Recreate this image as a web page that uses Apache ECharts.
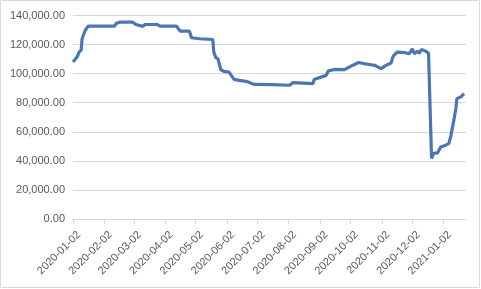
<!DOCTYPE html>
<html>
<head>
<meta charset="utf-8">
<script src="https://cdn.jsdelivr.net/npm/echarts@6/dist/echarts.min.js"></script>
<style>
html,body{margin:0;padding:0;background:#fff;}
#c{width:481px;height:289px;}
</style>
</head>
<body>
<div id="c"></div>
<script>
// Axis range (dates)
const startDate = '2020-01-02';
const endDate = '2021-01-24';

// Observed points (date, value)
const pointDates = [
  '2020-01-02','2020-01-06','2020-01-08','2020-01-10','2020-01-11','2020-01-14','2020-01-17',
  '2020-02-12','2020-02-14','2020-02-17','2020-03-01','2020-03-04','2020-03-11','2020-03-13',
  '2020-03-25','2020-03-28','2020-04-13','2020-04-17','2020-04-26','2020-04-28','2020-05-06',
  '2020-05-19','2020-05-20','2020-05-22','2020-05-24','2020-05-27','2020-05-30','2020-06-04',
  '2020-06-09','2020-06-14','2020-06-21','2020-06-29','2020-07-17','2020-08-03','2020-08-06',
  '2020-08-26','2020-08-27','2020-09-01','2020-09-08','2020-09-10','2020-09-16','2020-09-26',
  '2020-10-02','2020-10-10','2020-10-16','2020-10-26','2020-11-01','2020-11-06','2020-11-11',
  '2020-11-13','2020-11-17','2020-11-25','2020-11-29','2020-12-02','2020-12-04','2020-12-07',
  '2020-12-09','2020-12-11','2020-12-15','2020-12-18','2020-12-21','2020-12-23','2020-12-27',
  '2020-12-30','2021-01-04','2021-01-07','2021-01-09','2021-01-12','2021-01-14','2021-01-15',
  '2021-01-19','2021-01-22'
];
const pointValues = [
  108000,111400,114800,116000,124000,129700,132700,
  132700,134700,135400,135400,133800,132500,133800,
  133800,132700,132700,129200,129200,124700,124000,
  123500,114800,111000,110300,102700,101600,101100,
  96100,95400,94700,92600,92400,92000,93800,
  93100,95900,97200,98800,101800,102900,102700,
  105000,107700,106800,105700,103400,105700,107300,
  111900,114800,114400,113700,117100,113700,115500,
  114000,116700,115500,114100,41600,45100,45500,
  49600,50800,51900,57000,68000,76000,82800,
  84000,86300
];

// Y axis ticks
const yMin = 0, yMax = 140000, yStep = 20000;

// Build daily category list
const categories = [];
{
  const s = new Date(startDate + 'T00:00:00Z'), e = new Date(endDate + 'T00:00:00Z');
  for (let d = new Date(s); d <= e; d.setUTCDate(d.getUTCDate() + 1)) {
    categories.push(d.toISOString().slice(0, 10));
  }
}
const seriesData = pointDates.map((d, i) => [categories.indexOf(d), pointValues[i]]);
const isMonthTick = (idx) => categories[idx].slice(8) === '02';

const chart = echarts.init(document.getElementById('c'), null, {renderer: 'canvas'});
chart.setOption({
  animation: false,
  backgroundColor: '#fff',
  graphic: [{
    type: 'rect', shape: {x: 0.5, y: 0.5, width: 479, height: 287},
    style: {fill: 'none', stroke: '#d9d9d9', lineWidth: 1}, silent: true
  }],
  grid: {left: 73, right: 15, top: 15.5, bottom: 70, containLabel: false},
  xAxis: {
    type: 'category',
    data: categories,
    boundaryGap: false,
    axisLine: {lineStyle: {color: '#d9d9d9', width: 1}},
    axisTick: {show: true, interval: (i) => isMonthTick(i), length: 5, lineStyle: {color: '#d9d9d9'}},
    axisLabel: {
      interval: (i) => isMonthTick(i),
      rotate: 45, margin: 8,
      verticalAlign: 'top', padding: [3, 0, 0, 0],
      color: '#595959', fontSize: 11, fontFamily: 'Liberation Sans'
    },
    splitLine: {show: false}
  },
  yAxis: {
    type: 'value', min: yMin, max: yMax, interval: yStep,
    axisLine: {show: false}, axisTick: {show: false},
    axisLabel: {
      margin: 8, color: '#595959', fontSize: 11, fontFamily: 'Liberation Sans',
      formatter: (v) => v.toLocaleString('en-US', {minimumFractionDigits: 2, maximumFractionDigits: 2})
    },
    splitLine: {lineStyle: {color: '#d9d9d9', width: 1}}
  },
  series: [{
    type: 'line',
    data: seriesData,
    showSymbol: false,
    lineStyle: {color: '#4a76b4', width: 3.2},
    itemStyle: {color: '#4a76b4'}
  }]
});
</script>
</body>
</html>
